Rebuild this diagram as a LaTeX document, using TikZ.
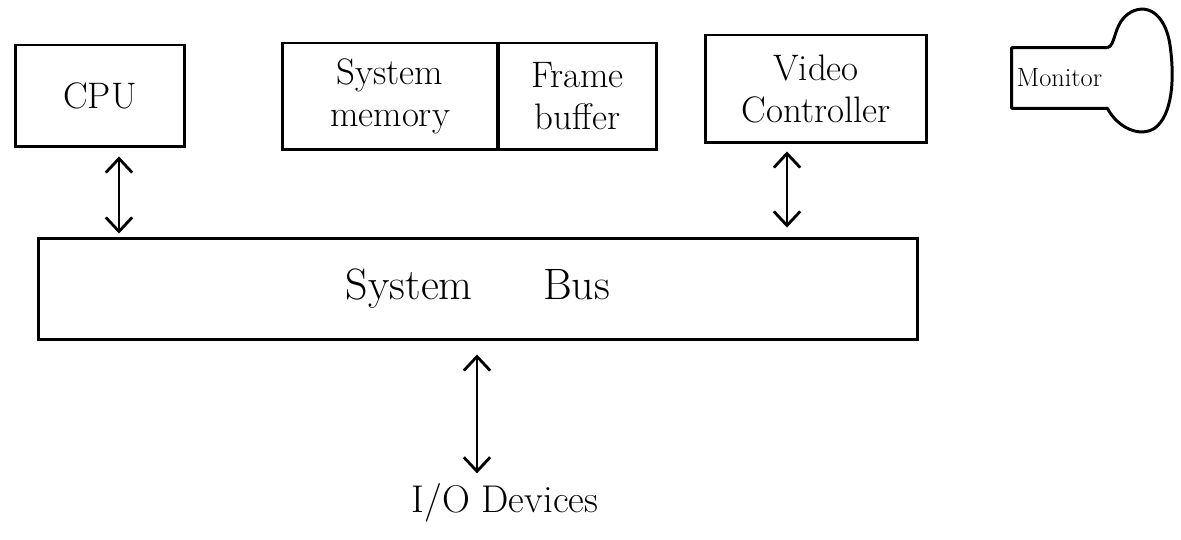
\documentclass[tikz,border=0pt]{standalone}
\usetikzlibrary{arrows.meta,calc}
\begin{document}
\begin{tikzpicture}[x=0.02cm,y=-0.02cm,
  box/.style={draw, line width=1.7pt, align=center, font=\fontsize{21}{24}\selectfont, inner sep=0pt},
  lbl/.style={align=center, inner sep=0pt},
  tip/.style={Straight Barb[length=8pt,width=15pt,line width=1.6pt]},
  arr/.style={line width=1.6pt, {Straight Barb[length=8pt,width=15pt,line width=1.6pt]}-{Straight Barb[length=8pt,width=15pt,line width=1.6pt]}}
]
\useasboundingbox (0,0) rectangle (1181,540);
\fill[white] (0,0) rectangle (1181,540);
% boxes
\node[box, minimum width=3.4cm, minimum height=2.04cm] (cpu) at (100,96) {CPU};
\node[box, minimum width=4.32cm, minimum height=2.14cm] (mem) at (390,96.5) {System\\memory};
\node[box, minimum width=3.18cm, minimum height=2.14cm] (fb) at (577.5,96.5) {Frame\\buffer};
\node[box, minimum width=4.44cm, minimum height=2.16cm] (vc) at (816,89) {Video\\Controller};
\node[box, minimum width=17.6cm, minimum height=2.04cm, font=\fontsize{25}{28}\selectfont] (bus) at (478,289) {System\hspace{1.6em}Bus};
% monitor
\node[lbl, minimum width=1.9cm, minimum height=1.2cm, font=\fontsize{15}{17}\selectfont] (mon) at (1059.5,78) {Monitor};
\draw[line width=1.7pt, line join=round] (mon.north east) -- (mon.north west) -- (mon.south west) -- (mon.south east)
  .. controls (1118,128) and (1140,138) .. (1155,128)
  .. controls (1172,115) and (1175,80) .. (1170,45)
  .. controls (1165,12) and (1145,2) .. (1128,14)
  .. controls (1113,25) and (1116,46) .. (mon.north east);
% I/O
\node[lbl, font=\fontsize{22}{25}\selectfont] (io) at (505,503) {I/O Devices};
% connectors
\draw[arr] ($(cpu.south)+(19,8)$) -- ($(cpu.south |- bus.north)+(19,-3)$);
\draw[arr] ($(vc.south)+(-29,7)$) -- ($(vc.south |- bus.north)+(-29,-9)$);
\draw[arr] ($(bus.south)+(-1,13)$) -- ($(bus.south |- io.north)+(-1,-10)$);
\end{tikzpicture}
\end{document}
